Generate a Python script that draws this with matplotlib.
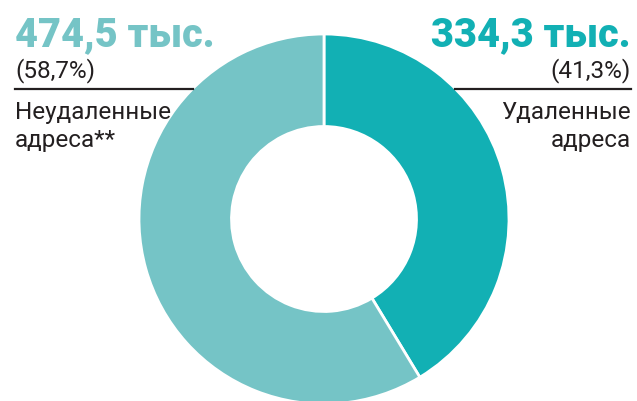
import matplotlib
matplotlib.use("Agg")
import matplotlib.pyplot as plt

labels = ["Удаленные\nадреса", "Неудаленные\nадреса**"]
values = [334.3, 474.5]
value_labels = ["334,3 тыс.", "474,5 тыс."]
pct_labels = ["(41,3%)", "(58,7%)"]
colors = ["#12B0B4", "#75C4C6"]

W, H = 637, 402
fig = plt.figure(figsize=(W / 100, H / 100), dpi=100)
fig.patch.set_facecolor("white")

ax = fig.add_axes([0, 0, 1, 1])
cx, cy, R = 324, 220, 185
ax.pie(values, colors=colors, startangle=90, counterclock=False,
       radius=1, wedgeprops=dict(width=0.5, edgecolor="white", linewidth=2))
ax.set_xlim(-cx / R, (W - cx) / R)
ax.set_ylim(-(H - cy) / R, cy / R)
ax.set_aspect("equal")
ax.axis("off")

def fx(x):
    return x / W

def fy(y):
    return 1 - y / H

txt = "#231F20"
font = "Roboto"
big = 28.5
small = 17.5

# Left block (Неудаленные)
fig.text(fx(15), fy(46), value_labels[1], color=colors[1], fontsize=big,
         fontweight="black", family=font, ha="left", va="baseline")
fig.text(fx(15), fy(77), pct_labels[1], color=txt, fontsize=small,
         family=font, ha="left", va="baseline")
fig.add_artist(plt.Line2D([fx(15), fx(193)], [fy(90), fy(90)], color=txt,
                          lw=1.6, transform=fig.transFigure))
l1, l2 = labels[1].split("\n")
fig.text(fx(15), fy(119), l1, color=txt, fontsize=small, family=font,
         ha="left", va="baseline")
fig.text(fx(15), fy(147), l2, color=txt, fontsize=small, family=font,
         ha="left", va="baseline")

# Right block (Удаленные)
fig.text(fx(631), fy(46), value_labels[0], color=colors[0], fontsize=big,
         fontweight="black", family=font, ha="right", va="baseline")
fig.text(fx(631), fy(77), pct_labels[0], color=txt, fontsize=small,
         family=font, ha="right", va="baseline")
fig.add_artist(plt.Line2D([fx(455), fx(631)], [fy(90), fy(90)], color=txt,
                          lw=1.6, transform=fig.transFigure))
r1, r2 = labels[0].split("\n")
fig.text(fx(631), fy(119), r1, color=txt, fontsize=small, family=font,
         ha="right", va="baseline")
fig.text(fx(631), fy(147), r2, color=txt, fontsize=small, family=font,
         ha="right", va="baseline")

fig.savefig("out.png", dpi=100, facecolor="white")
